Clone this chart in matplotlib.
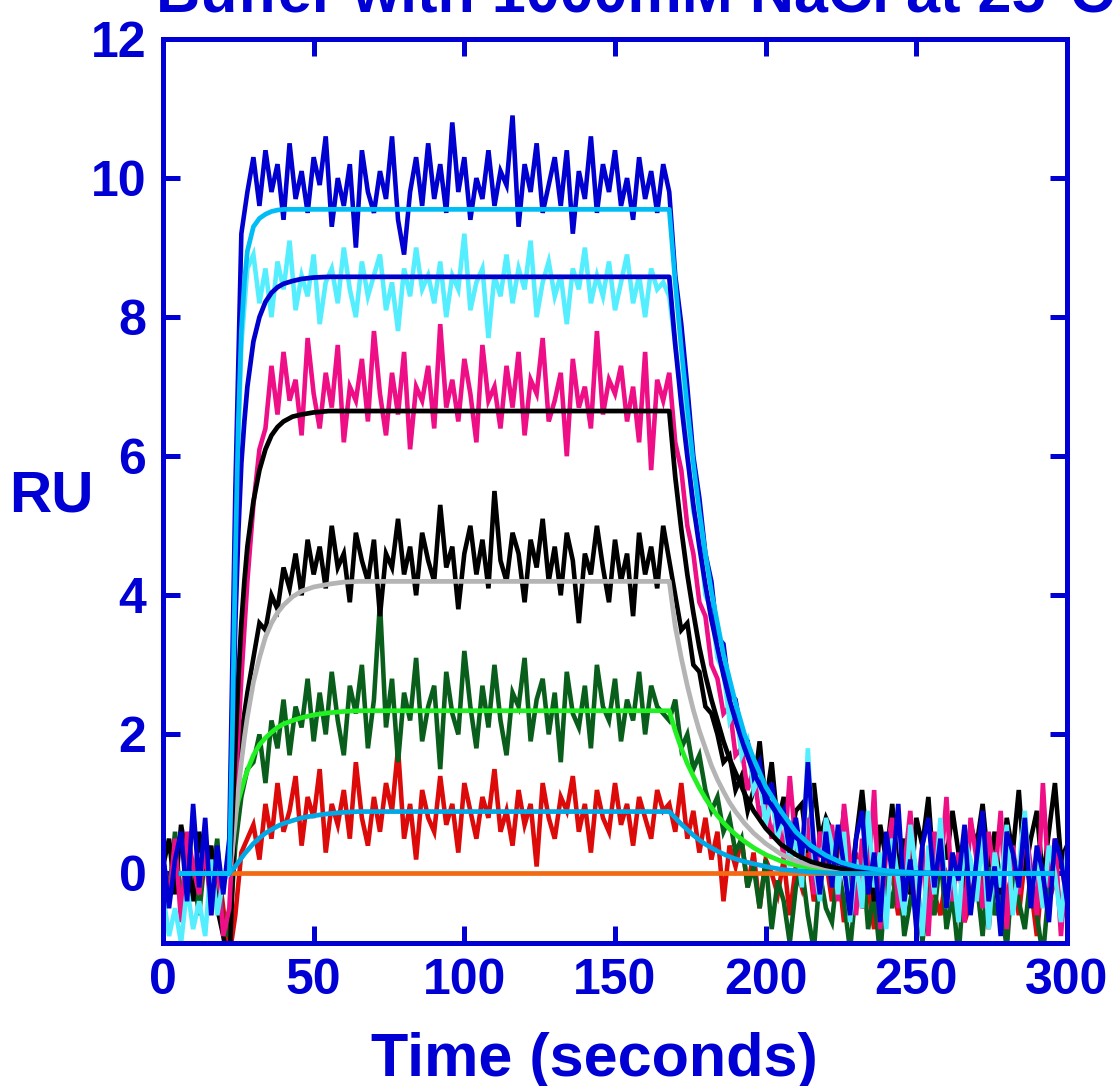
"""SPR sensorgram: noisy responses with fitted association/dissociation curves."""

import numpy as np
import matplotlib
matplotlib.use("Agg")
import matplotlib.pyplot as plt

plt.rcParams["font.family"] = ["Liberation Sans", "DejaVu Sans"]
plt.rcParams["font.weight"] = "bold"

# ── measured responses, one sample every 2 s from 0 to 300 s ─────────────────
T_DATA = np.arange(0, 301, 2)

BLUE_DATA = [
    0.3, -0.5, 0.2, 0.6, -0.4, 1.0, -0.2, 0.8, -0.6, 0.4, -0.3,
    0.5, 5.5, 9.2, 9.8,
    10.3, 9.6, 10.4, 9.8, 10.2, 9.4, 10.5, 9.7, 10.1, 9.5,
    10.3, 9.9, 10.6, 9.3, 10.0, 9.6, 10.2, 9.0, 10.4, 9.8,
    9.5, 10.1, 9.7, 10.6, 9.4, 8.9, 9.8, 10.3, 9.6, 10.5,
    9.7, 10.2, 9.5, 10.8, 9.8, 10.3, 9.4, 10.0, 9.7, 10.4,
    9.6, 10.1, 9.9, 10.9, 9.3, 10.2, 9.8, 10.5, 9.5, 9.9,
    10.3, 9.6, 10.4, 9.2, 10.1, 9.7, 10.6, 9.5, 10.2, 9.8,
    10.4, 9.6, 10.0, 9.4, 10.3, 9.7, 10.1, 9.5, 10.2,
    9.8, 8.6, 7.9, 7.0, 6.0, 5.4, 4.6, 4.2, 3.4, 3.3,
    2.6, 2.5, 2.0, 1.9, 1.4, 1.6, 1.0, 1.3, 0.7, 0.9,
    0.3, 0.8, 0.2, 1.6, 0.4, -0.3, 0.6,
    -0.2, 0.7, 0.1, -0.6, 0.5, 0.9, -0.3, 0.3, -0.7, 0.6,
    0.0, 1.0, -0.4, 0.2, -0.8, 0.4, 0.8, -0.2, 0.5, -0.5,
    0.3, -0.1, 0.7, -0.6, 0.2, 0.9, -0.4, 0.1, -0.9, 0.6,
    0.3, -0.2, 0.8, -0.5, 0.4, 0.0, -0.7, 0.5, 0.2, -0.4,
]

CYAN_DATA = [
    -0.3, -0.9, -0.5, -1.0, -0.2, -0.8, -0.4, -0.9, 0.2, -0.6, -0.1,
    0.0, 4.8, 7.6, 8.7,
    8.9, 8.2, 8.7, 8.0, 8.8, 8.4, 9.1, 8.1, 8.6, 8.3,
    8.9, 7.9, 8.5, 8.7, 8.2, 9.0, 8.4, 8.0, 8.8, 8.3,
    8.6, 8.9, 8.1, 8.5, 7.8, 8.7, 8.3, 9.0, 8.4, 8.6,
    8.2, 8.8, 8.0, 8.6, 8.4, 9.2, 8.1, 8.5, 8.7, 7.7,
    8.6, 8.3, 8.9, 8.2, 8.7, 8.4, 9.1, 8.0, 8.5, 8.8,
    8.3, 8.6, 7.9, 8.7, 8.4, 9.0, 8.2, 8.6, 8.3, 8.8,
    8.1, 8.5, 8.9, 8.2, 8.6, 8.0, 8.7, 8.4, 8.5,
    8.3, 7.6, 6.9, 6.1, 5.2, 4.9, 4.0, 3.8, 3.1, 2.9,
    2.2, 2.4, 1.7, 1.9, 1.2, 1.4, 0.7, 1.1, 0.5, 0.9,
    0.1, 0.6, -0.2, 1.8, 0.2, -0.4, 0.8,
    0.4, -0.3, 0.6, -0.7, 0.2, -0.5, 0.9, -0.2, 0.3, -0.8,
    0.5, -0.1, -0.6, 0.7, 0.0, -0.9, 0.4, -0.3, 0.8, -0.5,
    0.1, -0.7, 0.5, 0.2, -0.4, 0.6, -0.8, 0.3, -0.2, 0.7,
    -0.6, 0.1, 0.9, -0.3, 0.2, -0.5, 0.4, 0.0, -0.7, 0.3,
]

PINK_DATA = [
    0.2, -0.4, 0.5, -0.7, 0.6, 0.1, -0.3, 0.4, -0.6, 0.3, -0.9,
    -0.5, 1.2, 2.8, 4.2,
    5.3, 6.1, 6.4, 7.3, 6.6, 7.5, 6.8, 7.1, 6.3, 7.7,
    6.9, 6.4, 7.2, 6.7, 7.6, 6.2, 7.0, 6.8, 7.4, 6.5,
    7.8, 6.9, 6.3, 7.2, 6.6, 7.5, 6.1, 7.0, 6.8, 7.3,
    6.4, 7.9, 6.7, 7.1, 6.5, 7.4, 6.9, 6.2, 7.6, 6.8,
    7.0, 6.4, 7.3, 6.7, 7.5, 6.3, 7.1, 6.9, 7.7, 6.5,
    6.8, 7.2, 6.0, 7.4, 6.7, 7.0, 6.4, 7.8, 6.6, 7.1,
    6.9, 7.3, 6.5, 7.0, 6.2, 7.5, 5.8, 7.1, 6.8,
    7.2, 6.2, 5.8, 5.0, 4.6, 3.9, 3.7, 3.0, 2.8, 2.3,
    2.4, 1.7, 1.8, 1.2, 1.5, 0.8, 1.1, 0.5, 0.9, 0.2,
    1.4, 0.4, 0.1, 0.8, -0.3, 0.6, 0.2,
    0.7, -0.4, 1.0, 0.2, -0.6, 0.5, -0.2, 1.2, -0.8, 0.3,
    0.8, -0.5, 0.1, 0.9, -0.3, 0.4, -0.9, 0.6, 0.0, 1.1,
    -0.4, 0.3, -0.7, 0.8, 0.2, -0.5, 0.6, -0.1, 0.9, -0.8,
    0.4, -0.3, 0.7, 0.1, -0.6, 1.3, -0.2, 0.5, -0.9, 0.3,
]

BLACK_DATA = [
    0.1, 0.5, -0.3, 0.7, 0.2, -0.4, 0.6, 0.0, 0.4, -0.5, -0.9,
    -1.4, 1.0, 2.0, 2.6,
    3.1, 3.6, 3.5, 4.0, 3.8, 4.4, 4.1, 4.6, 4.0, 4.8,
    4.3, 4.7, 4.1, 5.0, 4.4, 4.6, 3.9, 4.9, 4.5, 4.2,
    4.8, 3.7, 4.6, 4.4, 5.1, 4.3, 4.7, 4.0, 4.9, 4.5,
    4.2, 5.3, 4.4, 4.7, 3.8, 4.6, 5.0, 4.3, 4.8, 4.1,
    5.5, 4.5, 4.2, 4.9, 4.6, 3.9, 4.8, 4.4, 5.1, 4.2,
    4.7, 4.0, 4.9, 4.5, 3.6, 4.6, 4.3, 5.0, 4.4, 3.9,
    4.8, 4.2, 4.6, 3.7, 4.9, 4.3, 4.7, 4.1, 5.0,
    4.5, 4.0, 3.5, 3.6, 3.0, 2.9, 2.4, 2.3, 2.0, 1.6,
    1.7, 1.2, 1.4, 0.9, 1.2, 1.9, 1.0, 1.6, 0.7, 1.1,
    0.4, 0.9, 1.0, 0.3, 1.3, 0.5, 0.8,
    0.6, 0.1, 0.9, -0.2, 0.5, 1.2, 0.3, -0.4, 0.7, 0.2,
    1.0, 0.0, 0.5, -0.3, 0.8, 0.4, 1.1, -0.1, 0.6, 0.2,
    0.9, 0.3, -0.2, 0.7, 0.4, 1.0, 0.1, 0.6, -0.3, 0.8,
    0.3, 1.2, 0.0, 0.5, 0.9, -0.1, 0.6, 1.3, 0.2, 0.4,
]

GREEN_DATA = [
    0.2, -0.3, 0.6, -0.5, 0.4, 0.0, -0.6, 0.3, -0.2, 0.5, -0.8,
    -0.9, 0.4, 1.1, 1.5,
    1.6, 2.0, 1.3, 2.2, 1.8, 2.5, 1.7, 2.4, 2.1, 2.8,
    1.9, 2.6, 2.0, 2.9, 2.2, 1.7, 2.7, 2.3, 3.0, 1.8,
    2.5, 3.9, 2.1, 2.8, 1.6, 2.6, 2.2, 3.1, 1.9, 2.4,
    2.7, 1.5, 2.9, 2.3, 2.0, 3.2, 2.4, 1.8, 2.7, 2.1,
    3.0, 2.2, 1.7, 2.6, 2.4, 3.1, 1.9, 2.5, 2.8, 2.0,
    2.6, 1.6, 2.9, 2.3, 2.1, 2.7, 1.8, 3.0, 2.4, 2.2,
    2.8, 1.9, 2.5, 2.2, 2.9, 2.0, 2.7, 2.4, 2.3,
    2.2, 2.5, 1.8, 2.0, 1.5, 1.7, 1.2, 0.9, 1.1, 0.6,
    0.8, 0.3, 0.5, -0.2, 0.1, -0.5, 0.2, -0.8, -0.1, -0.4,
    -1.0, -0.2, 0.1, -0.6, -1.1, 0.0, -0.5,
    -0.7, 0.1, -0.4, -1.1, -0.2, 0.3, -0.8, -0.3, -1.2, 0.0,
    -0.5, 0.2, -0.9, -0.4, 0.1, -1.0, -0.2, -0.6, 0.3, -0.8,
    -0.3, -1.2, 0.0, -0.5, -0.1, -0.9, 0.2, -0.6, -0.3, -1.1,
    0.1, -0.4, -0.8, 0.0, -0.6, -1.2, -0.2, 0.2, -0.7, -0.3,
]

RED_DATA = [
    0.1, -0.2, 0.3, -0.4, 0.2, 0.0, -0.3, 0.4, -0.1, 0.2, -0.5,
    -1.2, -0.6, 0.3, 0.5,
    0.7, 0.2, 1.0, 0.5, 1.3, 0.6, 0.9, 1.4, 0.4, 1.1,
    0.8, 1.5, 0.3, 1.0, 0.7, 1.2, 0.5, 1.6, 0.8, 0.4,
    1.1, 0.6, 1.3, 0.9, 1.8, 0.5, 1.0, 0.2, 1.2, 0.8,
    0.6, 1.4, 0.7, 1.0, 0.3, 1.3, 0.9, 0.5, 1.1, 0.8,
    1.5, 0.6, 0.9, 0.4, 1.2, 0.7, 1.0, 0.1, 1.3, 0.8,
    0.5, 1.1, 0.9, 1.4, 0.6, 1.0, 0.3, 1.2, 0.8, 0.6,
    1.3, 0.7, 1.0, 0.4, 1.1, 0.8, 0.5, 1.2, 0.9,
    1.0, 0.6, 1.3, 0.5, 0.9, 0.3, 0.8, 0.2, 0.6, -0.4,
    0.4, 0.1, 0.5, -0.2, 0.3, -0.5, 0.2, 0.0, -0.3, 0.2,
    -0.6, 0.1, -0.2, 0.3, -0.4, -0.1, 0.2,
    -0.4, 0.1, -0.7, -0.1, 0.3, -0.5, -0.2, -0.8, 0.2, -0.3,
    0.0, -0.6, -0.2, 0.4, -0.4, -0.9, 0.1, -0.3, -0.6, 0.0,
    -0.2, 0.3, -0.7, -0.4, 0.1, -0.1, -0.8, 0.2, -0.5, -0.3,
    0.0, -0.6, 0.2, -0.2, -0.9, 0.1, -0.4, -0.1, 0.3, -0.5,
]

# ── fitted curves, read at these times ────────────────────────────────────────
FIT_T = [6, 22, 23, 24, 25, 26, 27, 28, 30, 32, 34, 36, 38, 40, 43, 46, 50,
         55, 60, 65, 168, 170, 172, 174, 176, 178, 180, 182, 184, 186, 188,
         190, 193, 196, 200, 205, 210, 215, 220, 225, 230, 240, 250, 260, 295]

SKY_FIT_HI = [0, 0, 2.0, 4.5, 6.5, 7.8, 8.5, 8.95, 9.3, 9.42, 9.48, 9.52, 9.54,
              9.55, 9.55, 9.55, 9.55, 9.55, 9.55, 9.55, 9.55, 8.5, 7.55, 6.7,
              5.9, 5.2, 4.6, 4.05, 3.6, 3.15, 2.8, 2.45, 2.0, 1.65, 1.25, 0.9,
              0.6, 0.4, 0.26, 0.16, 0.1, 0.04, 0.01, 0, 0]
BLUE_FIT = [0, 0, 1.8, 3.6, 4.9, 5.9, 6.5, 7.0, 7.65, 8.0, 8.22, 8.35, 8.43,
            8.48, 8.52, 8.55, 8.57, 8.58, 8.58, 8.58, 8.58, 7.6, 6.75, 6.0,
            5.3, 4.7, 4.15, 3.65, 3.25, 2.85, 2.5, 2.2, 1.8, 1.45, 1.1, 0.78,
            0.52, 0.34, 0.22, 0.14, 0.09, 0.03, 0.01, 0, 0]
BLACK_FIT = [0, 0, 0.8, 1.8, 2.8, 3.6, 4.2, 4.7, 5.35, 5.8, 6.1, 6.3, 6.42,
             6.5, 6.57, 6.6, 6.63, 6.65, 6.65, 6.65, 6.65, 5.7, 4.95, 4.3,
             3.75, 3.25, 2.85, 2.5, 2.2, 1.9, 1.65, 1.45, 1.15, 0.9, 0.65,
             0.42, 0.27, 0.17, 0.11, 0.07, 0.04, 0.01, 0, 0, 0]
GRAY_FIT = [0, 0, 0.3, 0.75, 1.2, 1.6, 1.95, 2.25, 2.75, 3.1, 3.4, 3.6, 3.75,
            3.86, 3.98, 4.06, 4.12, 4.16, 4.19, 4.2, 4.2, 3.55, 3.1, 2.7,
            2.35, 2.05, 1.8, 1.55, 1.35, 1.18, 1.02, 0.89, 0.72, 0.58, 0.43,
            0.28, 0.18, 0.12, 0.08, 0.05, 0.03, 0.01, 0, 0, 0]
GREEN_FIT = [0, 0, 0.45, 0.85, 1.05, 1.2, 1.35, 1.48, 1.7, 1.85, 1.95, 2.03,
             2.1, 2.15, 2.2, 2.24, 2.28, 2.31, 2.33, 2.34, 2.34, 2.05, 1.8,
             1.58, 1.4, 1.23, 1.08, 0.95, 0.83, 0.73, 0.64, 0.56, 0.46, 0.37,
             0.27, 0.18, 0.12, 0.08, 0.05, 0.03, 0.02, 0, 0, 0, 0]
SKY_FIT_LO = [0, 0, 0.05, 0.1, 0.16, 0.22, 0.28, 0.33, 0.43, 0.51, 0.58, 0.63,
              0.68, 0.72, 0.76, 0.8, 0.83, 0.86, 0.88, 0.89, 0.89, 0.8, 0.71,
              0.63, 0.55, 0.48, 0.42, 0.37, 0.32, 0.28, 0.24, 0.21, 0.17,
              0.14, 0.1, 0.06, 0.04, 0.02, 0.01, 0, 0, 0, 0, 0, 0]
ORANGE_FIT = [0.0] * len(FIT_T)

X_TICKS = [0, 50, 100, 150, 200, 250, 300]
Y_TICKS = [0, 2, 4, 6, 8, 10, 12]

# ── colours ───────────────────────────────────────────────────────────────────
AXIS_COL = "#0000D4"

DATA_STYLE = [
    (RED_DATA,   "#DD0A0A"),
    (GREEN_DATA, "#0A5E1C"),
    (BLACK_DATA, "#000000"),
    (PINK_DATA,  "#EE0E86"),
    (CYAN_DATA,  "#55EEFF"),
    (BLUE_DATA,  "#0000D0"),
]

FIT_STYLE = [
    (ORANGE_FIT, "#F26A12"),
    (GREEN_FIT,  "#22F022"),
    (GRAY_FIT,   "#B4B4B4"),
    (BLACK_FIT,  "#000000"),
    (BLUE_FIT,   "#0000CC"),
    (SKY_FIT_LO, "#00A8E6"),
    (SKY_FIT_HI, "#00BEF5"),
]

# ── canvas ────────────────────────────────────────────────────────────────────
fig = plt.figure(figsize=(11.13, 10.86), dpi=100)
ax = fig.add_axes([163 / 1113, 1 - 943 / 1086, 904 / 1113, 904 / 1086])

for ys, col in DATA_STYLE:
    ax.plot(T_DATA, ys, color=col, lw=3.3, solid_joinstyle="miter", zorder=2)

for ys, col in FIT_STYLE:
    ax.plot(FIT_T, ys, color=col, lw=3.4, zorder=3)

ax.set_xlim(0, 300)
ax.set_ylim(-1, 12)
ax.set_xticks(X_TICKS)
ax.set_yticks(Y_TICKS)

for sp in ax.spines.values():
    sp.set_color(AXIS_COL)
    sp.set_linewidth(3.6)

ax.tick_params(axis="both", direction="in", length=12, width=3.6,
               top=True, right=True, color=AXIS_COL, labelcolor=AXIS_COL,
               labelsize=36)
ax.tick_params(axis="x", pad=11)
ax.tick_params(axis="y", pad=12)
for lab in ax.get_xticklabels() + ax.get_yticklabels():
    lab.set_fontweight("bold")

# ── labels ────────────────────────────────────────────────────────────────────
fig.text(594 / 1113, 1 - 1076 / 1086, "Time (seconds)", ha="center",
         va="baseline", fontsize=44, fontweight="bold", color=AXIS_COL)
fig.text(51 / 1113, 1 - 512 / 1086, "RU", ha="center", va="baseline",
         fontsize=42, fontweight="bold", color=AXIS_COL)
fig.text(635 / 1113, 1 - 12 / 1086, "Buffer with 1000mM NaCl at 25\u00b0C",
         ha="center", va="baseline", fontsize=44, fontweight="bold",
         color=AXIS_COL)

fig.savefig("out.png", dpi=100, facecolor="white")
plt.close(fig)
